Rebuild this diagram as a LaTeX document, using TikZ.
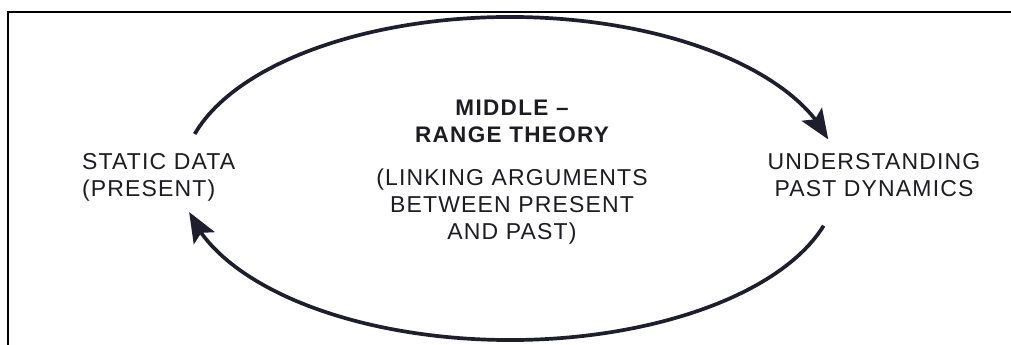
\documentclass[tikz,border=0pt]{standalone}
\usepackage{fontspec}
\setmainfont{Liberation Sans}
\usetikzlibrary{arrows.meta,bending,calc}
\definecolor{ink}{RGB}{30,30,44}
\definecolor{txt}{RGB}{28,28,34}
\begin{document}
\begin{tikzpicture}[x=1pt,y=1pt,
  lbl/.style={inner sep=0pt,text=txt,font=\fontsize{23}{27}\selectfont\addfontfeatures{LetterSpace=5}},
  ttl/.style={inner sep=0pt,text=txt,font=\fontsize{22.5}{26.5}\selectfont\bfseries\addfontfeatures{LetterSpace=6}},
  cyc/.style={draw=ink,line width=3.7pt,-{Stealth[length=30pt,width=24pt,inset=6pt]}}]
\useasboundingbox (0,0) rectangle (1011,345);
\fill[white] (0,0) rectangle (1011,345);
% frame
\coordinate (fTL) at (8,333);
\coordinate (fTR) at (1011,333);
\coordinate (fBL) at (8,0);
\draw[line width=1.4pt,black] (fBL) -- (fTL) -- (fTR);
% texts
\node[lbl,anchor=north west,align=left] (static) at (82,192) {STATIC DATA\\(PRESENT)};
\node[lbl,anchor=north,align=center] (underst) at (874,192) {UNDERSTANDING\\PAST DYNAMICS};
\node[ttl,anchor=north,align=center] (theory) at (512,245) {MIDDLE –\\RANGE THEORY};
\node[lbl,anchor=north,align=center] (linking) at (512,176) {(LINKING ARGUMENTS\\BETWEEN PRESENT\\AND PAST)};
% arcs on an ellipse centre (510,166.5), radii 328 x 161.5
\coordinate (topstart) at ($(510,166.5)+(164:328 and 161.5)$);
\coordinate (botstart) at ($(510,166.5)+(-17:328 and 161.5)$);
\draw[cyc] (topstart) arc[start angle=164,end angle=14,x radius=328,y radius=161.5];
\draw[cyc] (botstart) arc[start angle=-17,end angle=-168,x radius=328,y radius=161.5];
\end{tikzpicture}
\end{document}
